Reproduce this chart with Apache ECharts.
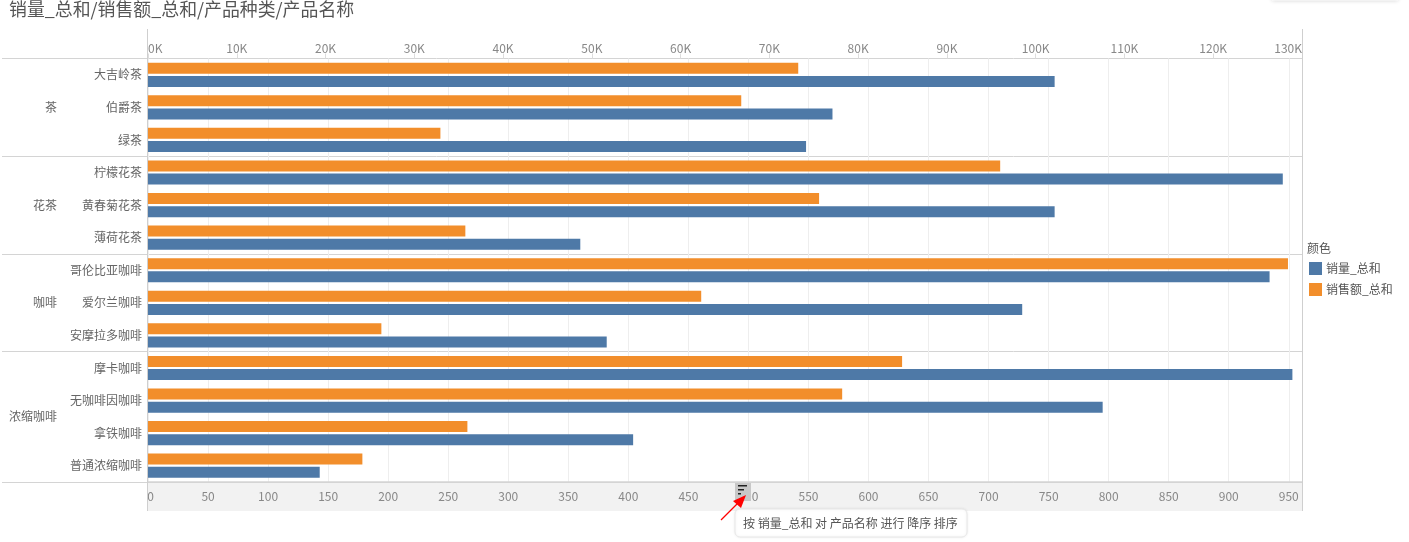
<!DOCTYPE html>
<html><head><meta charset="utf-8">
<style>html,body{margin:0;padding:0;background:#fff;overflow:hidden}#c{width:1409px;height:542px}</style>
<script src="https://cdn.jsdelivr.net/npm/echarts@6/dist/echarts.min.js"></script>
</head><body><div id="c"></div>
<script>
const FONT='"Noto Sans CJK SC","Noto Sans",sans-serif';
const products=['大吉岭茶','伯爵茶','绿茶','柠檬花茶','黄春菊花茶','薄荷花茶','哥伦比亚咖啡','爱尔兰咖啡','安摩拉多咖啡','摩卡咖啡','无咖啡因咖啡','拿铁咖啡','普通浓缩咖啡'];
const quantity=[755,570,548,945,755,360,934,728,382,953,795,404,143];
const sales=[73250,66830,32940,96000,75600,35750,128420,62320,26290,84950,78200,35980,24150];
const groups=['茶','花茶','咖啡','浓缩咖啡'];
const groupCentres=[1.5,4.5,7.5,11];
const groupEdges=[0,3,6,9,13];
const quantityTicks=[0,50,100,150,200,250,300,350,400,450,500,550,600,650,700,750,800,850,900,950];
const salesMax=130000, salesStep=10000, quantityMax=961;
const nameQ='销量_总和', nameS='销售额_总和';
const grid={left:148,right:107,top:58.5,bottom:60};
const chart=echarts.init(document.getElementById('c'),null,{renderer:'canvas'});
chart.setOption({
  animation:false,
  textStyle:{fontFamily:FONT},
  title:[
    {text:'销量_总和/销售额_总和/产品种类/产品名称',left:9,top:0,padding:0,textStyle:{fontSize:17.9,fontWeight:'normal',color:'#555',fontFamily:FONT}},
    {text:'颜色',left:1307,top:242,padding:0,textStyle:{fontSize:12,fontWeight:'normal',color:'#555',fontFamily:FONT}}
  ],
  legend:{data:[nameQ,nameS],orient:'vertical',left:1309,top:262,itemWidth:13,itemHeight:13,itemGap:8,itemGap:8,
    textStyle:{fontSize:12,color:'#555',fontFamily:FONT,padding:[0,0,0,-1]},icon:'rect',padding:0},
  grid,
  xAxis:[
    {type:'value',position:'bottom',min:0,max:quantityMax,
      axisLine:{show:false},axisTick:{show:false,customValues:quantityTicks},
      axisLabel:{customValues:quantityTicks,color:'#888',fontSize:12,margin:8,fontFamily:FONT,
        formatter:v=>v===0?'  0':String(v)},
      splitLine:{show:true,lineStyle:{color:'#eeeeee',width:1}}},
    {type:'value',position:'top',min:0,max:salesMax,interval:salesStep,
      axisLine:{show:false},axisTick:{show:true,length:5,lineStyle:{color:'#dddddd'}},
      axisLabel:{color:'#888',fontSize:12,margin:4,alignMinLabel:'left',alignMaxLabel:'right',fontFamily:FONT,
        formatter:v=>(v/1000)+'K'},
      splitLine:{show:false}}
  ],
  yAxis:[
    {type:'category',data:products,inverse:true,
      axisLine:{show:false},axisTick:{show:false},
      axisLabel:{color:'#666',fontSize:12,margin:6,fontFamily:FONT}},
    {type:'value',min:0,max:13,inverse:true,position:'left',
      axisLine:{show:false},
      axisTick:{show:true,customValues:groupEdges,length:146,lineStyle:{color:'#d4d4d4',width:1}},
      axisLabel:{show:true,customValues:groupCentres,color:'#666',fontSize:12,margin:91,align:'right',fontFamily:FONT,
        formatter:v=>groups[groupCentres.indexOf(v)]},
      splitLine:{show:true,lineStyle:{color:'#d4d4d4',width:1}}}
  ],
  series:[
    {name:nameS,type:'bar',xAxisIndex:1,yAxisIndex:0,data:sales,barWidth:11,barGap:'20%',itemStyle:{color:'#f28e2b'},z:3},
    {name:nameQ,type:'bar',xAxisIndex:0,yAxisIndex:0,data:quantity,barWidth:11,barGap:'20%',itemStyle:{color:'#4e79a7'},z:3}
  ],
  graphic:[
    {type:'rect',z:0,silent:true,shape:{x:148,y:482,width:1154,height:29},style:{fill:'#f2f2f2'}},
    {type:'line',z:5,silent:true,shape:{x1:148,y1:482,x2:1302,y2:482},style:{stroke:'#d4d4d4',lineWidth:1.5}},
    {type:'line',z:5,silent:true,shape:{x1:147.5,y1:29,x2:147.5,y2:511},style:{stroke:'#cfcfcf',lineWidth:1}},
    {type:'line',z:5,silent:true,shape:{x1:1302.5,y1:29,x2:1302.5,y2:511},style:{stroke:'#cfcfcf',lineWidth:1}},
    {type:'rect',z:6,silent:true,shape:{x:735,y:483,width:16,height:18},style:{fill:'#c8c8c8'}},
    {type:'rect',z:7,silent:true,shape:{x:738,y:485,width:9,height:1.5},style:{fill:'#222'}},
    {type:'rect',z:7,silent:true,shape:{x:738,y:489,width:6,height:1.5},style:{fill:'#222'}},
    {type:'rect',z:7,silent:true,shape:{x:738,y:493,width:3,height:1.5},style:{fill:'#222'}},
    {type:'line',z:8,silent:true,shape:{x1:721,y1:520,x2:741,y2:500},style:{stroke:'#f00',lineWidth:1.2}},
    {type:'polygon',z:8,silent:true,shape:{points:[[746,495],[733,501],[741,508]]},style:{fill:'#f00'}},
    {type:'rect',z:8,silent:true,shape:{x:735,y:509,width:232,height:28,r:5},
      style:{fill:'#fff',stroke:'#e8e8e8',lineWidth:1,shadowBlur:3,shadowColor:'rgba(0,0,0,0.08)'}},
    {type:'text',z:9,silent:true,style:{x:743,y:523,text:'按 销量_总和 对 产品名称 进行 降序 排序',fill:'#555',font:'12px '+FONT,textVerticalAlign:'middle'}},
    {type:'rect',z:8,silent:true,shape:{x:1272,y:-6,width:126,height:6.5},style:{fill:'#fff',shadowBlur:4,shadowColor:'rgba(0,0,0,0.2)'}}
  ]
});
</script></body></html>
